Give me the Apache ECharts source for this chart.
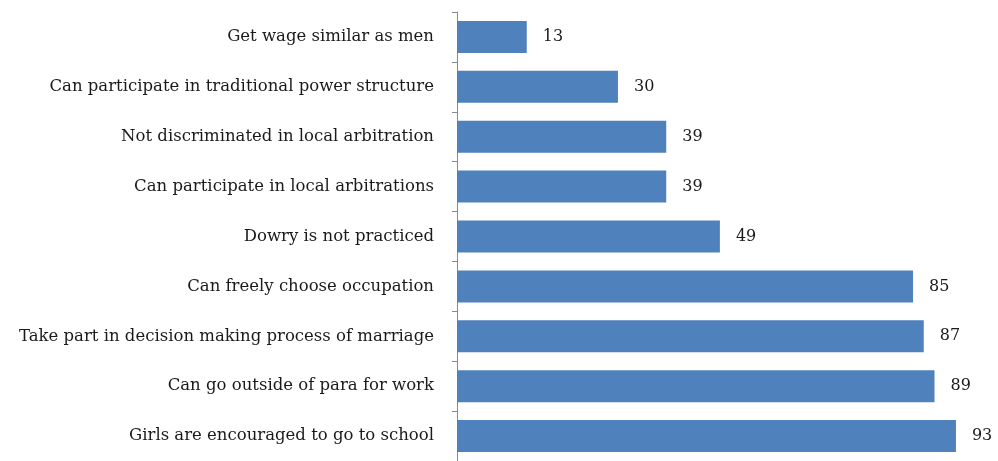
<!DOCTYPE html>
<html>
<head>
<meta charset="utf-8">
<script src="https://cdn.jsdelivr.net/npm/echarts@6/dist/echarts.min.js"></script>
<style>html,body{margin:0;padding:0;background:#fff;}#c{width:998px;height:461px;}</style>
</head>
<body>
<div id="c"></div>
<script>
const categories = [
  "Get wage similar as men",
  "Can participate in traditional power structure",
  "Not discriminated in local arbitration",
  "Can participate in local arbitrations",
  "Dowry is not practiced",
  "Can freely choose occupation",
  "Take part in decision making process of marriage",
  "Can go outside of para for work",
  "Girls are encouraged to go to school"
];
const values = [13, 30, 39, 39, 49, 85, 87, 89, 93];
const valueMin = 0;
const valueMax = 100;

const chart = echarts.init(document.getElementById('c'), null, {renderer: 'canvas'});
chart.setOption({
  animation: false,
  grid: {left: 457, right: 4.5, top: 12, bottom: -3.3, containLabel: false},
  xAxis: {
    type: 'value', min: valueMin, max: valueMax, show: false
  },
  yAxis: {
    type: 'category',
    data: categories,
    inverse: true,
    axisLine: {show: true, lineStyle: {color: '#8a8a8a', width: 1}},
    axisTick: {show: true, length: 5, lineStyle: {color: '#8a8a8a'}},
    axisLabel: {
      margin: 23,
      color: '#1a1a1a',
      fontFamily: 'DejaVu Serif',
      fontSize: 16.5
    }
  },
  series: [{
    type: 'bar',
    data: values,
    barWidth: 32,
    itemStyle: {color: '#4F81BD'},
    label: {
      show: true,
      position: 'right',
      distance: 16,
      color: '#1a1a1a',
      fontFamily: 'DejaVu Serif',
      fontSize: 16
    }
  }]
});
</script>
</body>
</html>
